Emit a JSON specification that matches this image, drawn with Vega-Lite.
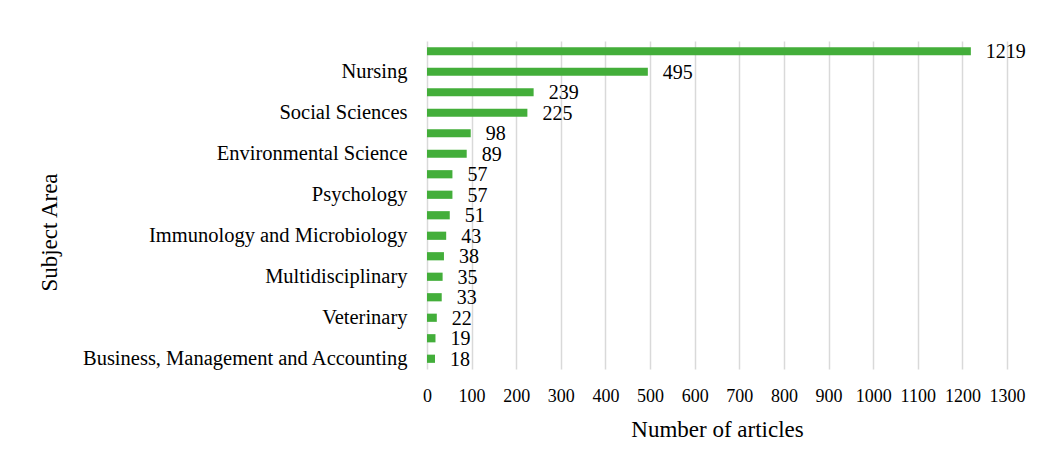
{
  "$schema": "https://vega.github.io/schema/vega-lite/v6.json",
  "autosize": "none",
  "width": 580,
  "height": 328,
  "padding": {"left": 427, "top": 41, "right": 32, "bottom": 101},
  "background": "white",
  "config": {
    "view": {"stroke": null},
    "font": "Liberation Serif",
    "axis": {"labelFont": "Liberation Serif", "titleFont": "Liberation Serif", "labelColor": "#000000", "titleColor": "#000000", "titleFontWeight": "normal"}
  },
  "data": {
    "values": [
      {"area": "Medicine", "articles": 1219},
      {"area": "Nursing", "articles": 495},
      {"area": "Health Professions", "articles": 239},
      {"area": "Social Sciences", "articles": 225},
      {"area": "Arts and Humanities", "articles": 98},
      {"area": "Environmental Science", "articles": 89},
      {"area": "Biochemistry, Genetics and Molecular Biology", "articles": 57},
      {"area": "Psychology", "articles": 57},
      {"area": "Pharmacology, Toxicology and Pharmaceutics", "articles": 51},
      {"area": "Immunology and Microbiology", "articles": 43},
      {"area": "Agricultural and Biological Sciences", "articles": 38},
      {"area": "Multidisciplinary", "articles": 35},
      {"area": "Engineering", "articles": 33},
      {"area": "Veterinary", "articles": 22},
      {"area": "Computer Science", "articles": 19},
      {"area": "Business, Management and Accounting", "articles": 18}
    ]
  },
  "encoding": {
    "y": {
      "field": "area",
      "type": "nominal",
      "sort": ["Medicine", "Nursing", "Health Professions", "Social Sciences", "Arts and Humanities", "Environmental Science", "Biochemistry, Genetics and Molecular Biology", "Psychology", "Pharmacology, Toxicology and Pharmaceutics", "Immunology and Microbiology", "Agricultural and Biological Sciences", "Multidisciplinary", "Engineering", "Veterinary", "Computer Science", "Business, Management and Accounting"],
      "scale": {"paddingInner": 0.6, "paddingOuter": 0.3},
      "axis": {
        "title": "Subject Area",
        "titleFontSize": 23,
        "titleX": -378,
        "titleY": 191,
        "titleAngle": -90,
        "titleAlign": "center",
        "titleBaseline": "middle",
        "labelFontSize": 20.5,
        "labelPadding": 20,
        "labelLimit": 0,
        "ticks": false,
        "domain": false,
        "labelExpr": "indexof(['Nursing','Social Sciences','Environmental Science','Psychology','Immunology and Microbiology','Multidisciplinary','Veterinary','Business, Management and Accounting'], datum.label) >= 0 ? datum.label : ''"
      }
    },
    "x": {
      "field": "articles",
      "type": "quantitative",
      "scale": {"domain": [0, 1300], "nice": false},
      "axis": {
        "title": "Number of articles",
        "titleFontSize": 23,
        "titlePadding": 13,
        "values": [0, 100, 200, 300, 400, 500, 600, 700, 800, 900, 1000, 1100, 1200, 1300],
        "format": "d",
        "labelFontSize": 18,
        "labelPadding": 18,
        "ticks": false,
        "domain": false,
        "grid": true,
        "gridColor": "#d9d9d9",
        "gridWidth": 1.5,
        "labelFlush": false,
        "labelOverlap": false
      }
    }
  },
  "layer": [
    {"mark": {"type": "bar", "color": "#43ae3a"}},
    {
      "mark": {"type": "text", "align": "left", "baseline": "middle", "dx": 15, "dy": 1, "fontSize": 20, "color": "#000000"},
      "encoding": {"text": {"field": "articles", "type": "quantitative"}}
    }
  ]
}
